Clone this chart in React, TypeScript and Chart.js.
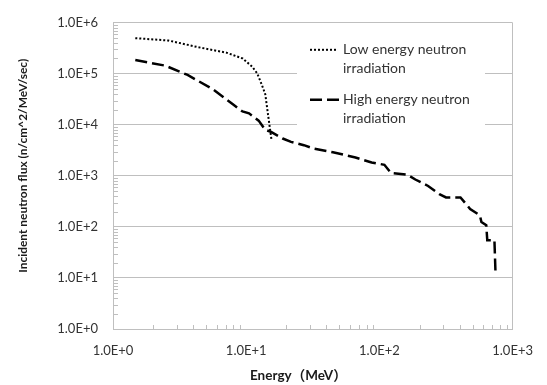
import React, { useEffect, useRef } from "react";
import { Chart, registerables } from "chart.js";
Chart.register(...registerables);

// Energy (MeV) and flux (n/cm^2/MeV/sec)
const lowEnergyX = [1.47, 2.6, 4.3, 7.1, 9.4, 11.1, 12.1, 13.1, 13.9, 14.9, 15.5];
const lowEnergyY = [5.0e5, 4.5e5, 3.35e5, 2.6e5, 2.0e5, 1.38e5, 1.02e5, 6.1e4, 4.0e4, 1.05e4, 5.0e3];

const highEnergyX = [1.47, 2.46, 3.63, 5.68, 7.94, 9.38, 10.5, 12.4, 13.9, 15.5, 18.8, 21.7, 27.1, 32.0, 44.8, 66.1, 87.4, 109, 122, 162, 186, 232, 282, 316, 406, 480, 568, 583, 634, 645, 730, 743];
const highEnergyY = [1.86e5, 1.45e5, 9.5e4, 4.9e4, 2.53e4, 1.83e4, 1.68e4, 1.21e4, 8.0e3, 7.2e3, 5.4e3, 4.65e3, 4.0e3, 3.45e3, 2.9e3, 2.3e3, 1.83e3, 1.65e3, 1.14e3, 1.06e3, 850, 634, 437, 378, 378, 225, 168, 125, 108, 55, 55, 13.6];

const xTickValues = [1, 10, 100, 1000];
const yTickValues = [1, 10, 100, 1e3, 1e4, 1e5, 1e6];
const lowLabel = ["Low energy neutron", "irradiation"];
const highLabel = ["High energy neutron", "irradiation"];
const xTitle = "Energy（MeV）";
const yTitle = "Incident neutron flux (n/cm^2/MeV/sec)";

const FONT = "Lato, 'Noto Sans CJK JP', sans-serif";
const GRID = "#bfbfbf";
const TEXT = "#333333";

const fmt = (v: number) => Number(v).toExponential(1).replace("e", "E");

function fitFont(ctx: CanvasRenderingContext2D, text: string, weight: string, target: number) {
  ctx.font = weight + " 100px " + FONT;
  const w = ctx.measureText(text).width;
  const size = (100 * target) / w;
  ctx.font = weight + " " + size.toFixed(2) + "px " + FONT;
}

const overlayPlugin = {
  id: "overlay",
  afterDraw(chart: any) {
    const { ctx, chartArea, scales } = chart;
    const xs = scales.x;
    const ys = scales.y;
    ctx.save();
    ctx.strokeStyle = GRID;
    ctx.lineWidth = 1;
    // minor ticks (inside)
    for (let e = 0; e < 6; e++) {
      for (let m = 2; m <= 9; m++) {
        const py = Math.round(ys.getPixelForValue(m * Math.pow(10, e))) + 0.5;
        ctx.beginPath();
        ctx.moveTo(chartArea.left, py);
        ctx.lineTo(chartArea.left + 5, py);
        ctx.stroke();
      }
    }
    for (let e = 0; e < 3; e++) {
      for (let m = 2; m <= 9; m++) {
        const px = Math.round(xs.getPixelForValue(m * Math.pow(10, e))) + 0.5;
        ctx.beginPath();
        ctx.moveTo(px, chartArea.bottom);
        ctx.lineTo(px, chartArea.bottom - 4);
        ctx.stroke();
      }
    }
    // legend
    const lx = chartArea.left + 184;
    const ly = chartArea.top + 8;
    ctx.fillStyle = "#ffffff";
    ctx.fillRect(lx, ly, 188, 104);
    ctx.strokeStyle = "#000000";
    ctx.lineWidth = 2;
    ctx.setLineDash([2, 2]);
    ctx.beginPath();
    ctx.moveTo(lx + 13, ly + 19);
    ctx.lineTo(lx + 41, ly + 19);
    ctx.stroke();
    ctx.lineWidth = 2.5;
    ctx.setLineDash([12, 5]);
    ctx.beginPath();
    ctx.moveTo(lx + 13, ly + 69);
    ctx.lineTo(lx + 43, ly + 69);
    ctx.stroke();
    ctx.setLineDash([]);
    ctx.fillStyle = TEXT;
    ctx.font = "14px " + FONT;
    ctx.textBaseline = "middle";
    ctx.textAlign = "left";
    ctx.fillText(lowLabel[0], lx + 46, ly + 19);
    ctx.fillText(lowLabel[1], lx + 46, ly + 38);
    ctx.fillText(highLabel[0], lx + 46, ly + 69);
    ctx.fillText(highLabel[1], lx + 46, ly + 88);
    // axis titles
    ctx.fillStyle = "#1a1a1a";
    ctx.textBaseline = "alphabetic";
    ctx.textAlign = "left";
    ctx.font = "bold 13.5px " + FONT;
    ctx.fillText(xTitle, chartArea.left + 137, chart.height - 5);
    ctx.translate(27, chartArea.top + 250);
    ctx.rotate(-Math.PI / 2);
    fitFont(ctx, yTitle, "bold", 214);
    ctx.fillText(yTitle, 0, 0);
    ctx.restore();
  },
};

export default function App() {
  const ref = useRef<HTMLCanvasElement | null>(null);
  useEffect(() => {
    document.body.style.margin = "0";
    const canvas = ref.current;
    if (!canvas) return;
    const chart = new Chart(canvas, {
      type: "line",
      data: {
        datasets: [
          {
            label: lowLabel.join(" "),
            data: lowEnergyX.map((x, i) => ({ x, y: lowEnergyY[i] })),
            borderColor: "#000000",
            borderWidth: 2,
            borderDash: [2, 2],
            pointRadius: 0,
            fill: false,
            tension: 0,
          },
          {
            label: highLabel.join(" "),
            data: highEnergyX.map((x, i) => ({ x, y: highEnergyY[i] })),
            borderColor: "#000000",
            borderWidth: 2.5,
            borderDash: [12, 5],
            pointRadius: 0,
            fill: false,
            tension: 0,
          },
        ],
      },
      options: {
        animation: false,
        responsive: false,
        layout: { padding: { left: 0, right: 22, top: 17, bottom: 0 } },
        plugins: { legend: { display: false }, tooltip: { enabled: false } },
        scales: {
          x: {
            type: "logarithmic",
            min: 1,
            max: 1000,
            afterBuildTicks: (s: any) => {
              s.ticks = xTickValues.map((v) => ({ value: v }));
            },
            afterFit: (s: any) => {
              s.height = 56;
            },
            ticks: {
              callback: (v: any) => fmt(v),
              padding: 14,
              maxRotation: 0,
              autoSkip: false,
              color: TEXT,
              font: { family: FONT, size: 13 },
            },
            grid: {
              color: (c: any) => (c.tick && c.tick.value === 1000 ? GRID : "rgba(0,0,0,0)"),
              drawTicks: false,
            },
            border: { color: GRID },
            title: { display: false },
          },
          y: {
            type: "logarithmic",
            min: 1,
            max: 1e6,
            afterBuildTicks: (s: any) => {
              s.ticks = yTickValues.map((v) => ({ value: v }));
            },
            afterFit: (s: any) => {
              s.width = 113;
            },
            ticks: {
              callback: (v: any) => fmt(v),
              padding: 15,
              autoSkip: false,
              color: TEXT,
              font: { family: FONT, size: 13 },
            },
            grid: { color: GRID, drawTicks: false },
            border: { color: GRID },
            title: { display: false },
          },
        },
      },
      plugins: [overlayPlugin],
    } as any);
    return () => chart.destroy();
  }, []);
  return (
    <div style={{ width: 547, height: 385 }}>
      <canvas ref={ref} width={547} height={385} style={{ display: "block" }} />
    </div>
  );
}
